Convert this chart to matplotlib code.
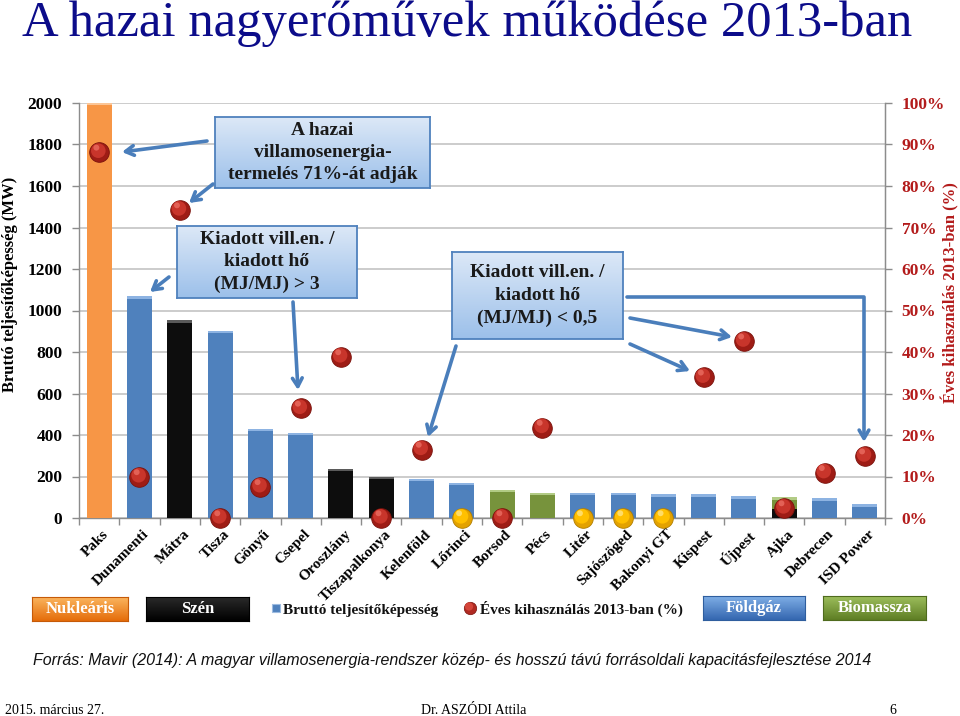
import numpy as np
import matplotlib
matplotlib.use("Agg")
import matplotlib.pyplot as plt
from matplotlib.colors import LinearSegmentedColormap
from matplotlib.patches import FancyArrowPatch
from matplotlib.path import Path
from matplotlib.transforms import offset_copy, ScaledTranslation

# ---------------- data ----------------
plants = ["Paks", "Dunamenti", "Mátra", "Tisza", "Gönyű", "Csepel", "Oroszlány",
          "Tiszapalkonya", "Kelenföld", "Lőrinci", "Borsod", "Pécs", "Litér",
          "Sajószöged", "Bakonyi GT", "Kispest", "Újpest", "Ajka", "Debrecen",
          "ISD Power"]
capacity_mw = [2000, 1068, 953, 902, 430, 411, 238, 198, 189, 169,
               137, 121, 121, 121, 114, 114, 105, 101, 95, 66]
utilization_pct = [88.1, 9.9, 74.2, 0.0, 7.5, 26.4, 38.8, 0.0, 16.5, 0.0,
                   0.0, 21.8, 0.0, 0.0, 0.0, 33.9, 42.6, 2.4, 10.9, 14.9]
fuel = ["nuc", "gas", "coal", "gas", "gas", "gas", "coal", "coal", "gas", "gas",
        "bio", "bio", "gas", "gas", "gas", "gas", "gas", "bio", "gas", "gas"]
dot_kind = ["red", "red", "red", "red", "red", "red", "red", "red", "red", "yellow",
            "red", "red", "yellow", "yellow", "yellow", "red", "red", "red", "red", "red"]
ajka_coal_mw = 45
left_ticks = list(range(0, 2001, 200))
right_ticks = list(range(0, 101, 10))

fuel_col = {"nuc": "#F79646", "gas": "#4F81BD", "coal": "#0D0D0D", "bio": "#77933C"}
fuel_top = {"nuc": "#FBC596", "gas": "#8DB3E2", "coal": "#5A5A5A", "bio": "#B2CB85"}

W, H = 960, 716
fig = plt.figure(figsize=(W / 100, H / 100), dpi=100)
FX = lambda px: px / W
FY = lambda py: 1 - py / H

SERIF = "Liberation Serif"

ax = fig.add_axes([FX(79), FY(518), (885 - 79) / W, (518 - 103) / H])
x = np.arange(len(plants))
bw = 0.62
bevel = 12
for i, (v, f) in enumerate(zip(capacity_mw, fuel)):
    ax.bar(i, v, width=bw, color=fuel_col[f], zorder=3, edgecolor="none")
    if plants[i] == "Ajka":
        ax.bar(i, ajka_coal_mw, width=bw, color=fuel_col["coal"], zorder=3.1, edgecolor="none")
    ax.bar(i, bevel, bottom=v - bevel, width=bw, color=fuel_top[f], zorder=3.2, edgecolor="none")

ax.set_xlim(-0.5, len(plants) - 0.5)
ax.set_ylim(0, 2000)
ax.set_yticks(left_ticks)
ax.set_yticklabels([str(t) for t in left_ticks], fontfamily=SERIF, fontweight="bold", fontsize=12.5)
ax.yaxis.grid(True, color="#BEBEBE", linewidth=1.1, zorder=0)
ax.set_axisbelow(True)
ax.spines["top"].set_visible(False)
for s in ["left", "bottom", "right"]:
    ax.spines[s].set_color("#8C8C8C")
    ax.spines[s].set_linewidth(1.0)
ax.tick_params(axis="y", length=5, width=1, color="#8C8C8C", pad=7)
ax.set_xticks(x)
ax.set_xticks(np.arange(-0.5, len(plants), 1.0), minor=True)
ax.tick_params(axis="x", which="major", length=0, pad=7)
ax.tick_params(axis="x", which="minor", length=5, width=1, color="#8C8C8C")
ax.set_xticklabels(plants, rotation=45, ha="right", rotation_mode="anchor",
                   fontfamily=SERIF, fontweight="bold", fontsize=11)
for lab in ax.get_xticklabels():
    lab.set_transform(lab.get_transform() + ScaledTranslation(3 / 100, 0, fig.dpi_scale_trans))

ax2 = ax.twinx()
ax2.set_ylim(0, 100)
ax2.set_yticks(right_ticks)
ax2.set_yticklabels([f"{t}%" for t in right_ticks], fontfamily=SERIF, fontweight="bold",
                    fontsize=12.5, color="#B31B1B")
ax2.tick_params(axis="y", length=5, width=1, color="#8C8C8C", pad=7)
for s in ["left", "top", "bottom"]:
    ax2.spines[s].set_visible(False)
ax2.spines["right"].set_color("#8C8C8C")

# axis titles (placed as figure text so they stay inside the canvas)
fig.text(FX(10), FY(284), "Bruttó teljesítőképesség (MW)", rotation=90, ha="center", va="center",
         fontfamily=SERIF, fontweight="bold", fontsize=12)
fig.text(FX(950), FY(293), "Éves kihasználás 2013-ban (%)", rotation=90, ha="center", va="center",
         fontfamily=SERIF, fontweight="bold", fontsize=12, color="#B31B1B")

# shaded spheres
for i, (u, k) in enumerate(zip(utilization_pct, dot_kind)):
    if k == "red":
        base, mid, hi, edge = "#9E1C15", "#C8352B", "#E86A5E", "#7A120C"
    else:
        base, mid, hi, edge = "#E3A200", "#FFC000", "#FFE27A", "#B07D00"
    ax2.scatter([i], [u], s=200, color=base, edgecolor=edge, linewidth=0.6, zorder=5, clip_on=False)
    t1 = offset_copy(ax2.transData, fig=fig, x=-0.6, y=1.2, units="points")
    ax2.scatter([i], [u], s=110, color=mid, edgecolor="none", zorder=6, clip_on=False, transform=t1)
    t2 = offset_copy(ax2.transData, fig=fig, x=-2.0, y=3.4, units="points")
    ax2.scatter([i], [u], s=18, color=hi, edgecolor="none", zorder=7, clip_on=False, transform=t2, alpha=0.85)


# ---------------- callout boxes ----------------
def grad_box(x0, y0, x1, y1, top, bottom, edge, text, fs, tcolor, lw=1.3, z=20, ls=1.15):
    a = fig.add_axes([FX(x0), FY(y1), (x1 - x0) / W, (y1 - y0) / H])
    cmap = LinearSegmentedColormap.from_list("g", [top, bottom])
    a.imshow(np.linspace(0, 1, 64)[:, None], aspect="auto", cmap=cmap, extent=[0, 1, 0, 1])
    a.set_xticks([])
    a.set_yticks([])
    for s in a.spines.values():
        s.set_edgecolor(edge)
        s.set_linewidth(lw)
    a.text(0.5, 0.5, text, ha="center", va="center", fontfamily=SERIF, fontweight="bold",
           fontsize=fs, color=tcolor, linespacing=ls, transform=a.transAxes)
    a.set_zorder(z)
    return a


BLUE_TOP, BLUE_BOT = "#DCE8F7", "#9CC0EA"
grad_box(215, 117, 430, 188, BLUE_TOP, BLUE_BOT, "#4F81BD",
         "A hazai\nvillamosenergia-\ntermelés 71%-át adják", 14, "#1A1A1A", ls=1.4)
grad_box(177, 226, 357, 298, BLUE_TOP, BLUE_BOT, "#4F81BD",
         "Kiadott vill.en. /\nkiadott hő\n(MJ/MJ) > 3", 14, "#1A1A1A", ls=1.4)
grad_box(452, 252, 623, 339, BLUE_TOP, BLUE_BOT, "#4F81BD",
         "Kiadott vill.en. /\nkiadott hő\n(MJ/MJ) < 0,5", 14, "#1A1A1A", ls=1.45)

ARC = "#4A7EBB"


def arrow(points):
    verts = [(FX(px), FY(py)) for px, py in points]
    codes = [Path.MOVETO] + [Path.LINETO] * (len(verts) - 1)
    p = FancyArrowPatch(path=Path(verts, codes), transform=fig.transFigure,
                        arrowstyle="->,head_length=6,head_width=3.5", color=ARC, lw=2.6,
                        zorder=30)
    fig.add_artist(p)


arrow([(207, 141), (122, 152)])
arrow([(213, 184), (189, 203)])
arrow([(169, 277), (150, 292)])
arrow([(293, 302), (298, 390)])
arrow([(456, 346), (428, 437)])
arrow([(630, 318), (732, 337)])
arrow([(630, 344), (690, 371)])
arrow([(627, 297), (864, 297), (864, 442)])

# ---------------- legend row ----------------
grad_box(32, 597, 128, 621, "#FBB55E", "#E46C0A", "#C65A08", "Nukleáris", 12, "white", lw=0.8, z=15)
grad_box(146, 597, 249, 621, "#2A2A2A", "#000000", "#000000", "Szén", 12, "white", lw=0.8, z=15)
grad_box(703, 596, 805, 620, "#7FAEE6", "#3467B0", "#2F5E9E", "Földgáz", 12, "white", lw=0.8, z=15)
grad_box(823, 596, 926, 620, "#9DBE5C", "#5E7E24", "#4F6B1E", "Biomassza", 12, "white", lw=0.8, z=15)

fig.add_artist(plt.Rectangle((FX(272), FY(612)), 8 / W, 8 / H, transform=fig.transFigure,
                             facecolor="#4F81BD", edgecolor="#9DBBE0", lw=0.8))
fig.text(FX(283), FY(614), "Bruttó teljesítőképesség", fontfamily=SERIF, fontweight="bold",
         fontsize=11, va="baseline", color="#111111")
leg_ax = fig.add_axes([0, 0, 1, 1], zorder=-5)
leg_ax.set_axis_off()
leg_ax.set_xlim(0, W)
leg_ax.set_ylim(H, 0)
leg_ax.scatter([470], [608], s=80, color="#B02A22", edgecolor="#7A120C", linewidth=0.5)
leg_ax.scatter([469], [606.5], s=35, color="#D4453A", edgecolor="none")
fig.text(FX(480), FY(614), "Éves kihasználás 2013-ban (%)", fontfamily=SERIF, fontweight="bold",
         fontsize=11, va="baseline", color="#111111")

# ---------------- titles / texts ----------------
fig.text(FX(22), FY(36), "A hazai nagyerőművek működése 2013-ban", fontfamily=SERIF,
         fontsize=36.5, color="#0C0C8A", va="baseline")
fig.text(FX(33), FY(665), "Forrás: Mavir (2014): A magyar villamosenergia-rendszer közép- és hosszú "
         "távú forrásoldali kapacitásfejlesztése 2014", fontfamily="Liberation Sans",
         style="italic", fontsize=11.5, va="baseline", color="#111111")
fig.text(FX(5), FY(714), "2015. március 27.", fontfamily=SERIF, fontsize=10, va="baseline")
fig.text(FX(474), FY(714), "Dr. ASZÓDI Attila", fontfamily=SERIF, fontsize=10, va="baseline", ha="center")
fig.text(FX(893), FY(714), "6", fontfamily=SERIF, fontsize=10, va="baseline", ha="center")

fig.savefig("out.png", dpi=100)
